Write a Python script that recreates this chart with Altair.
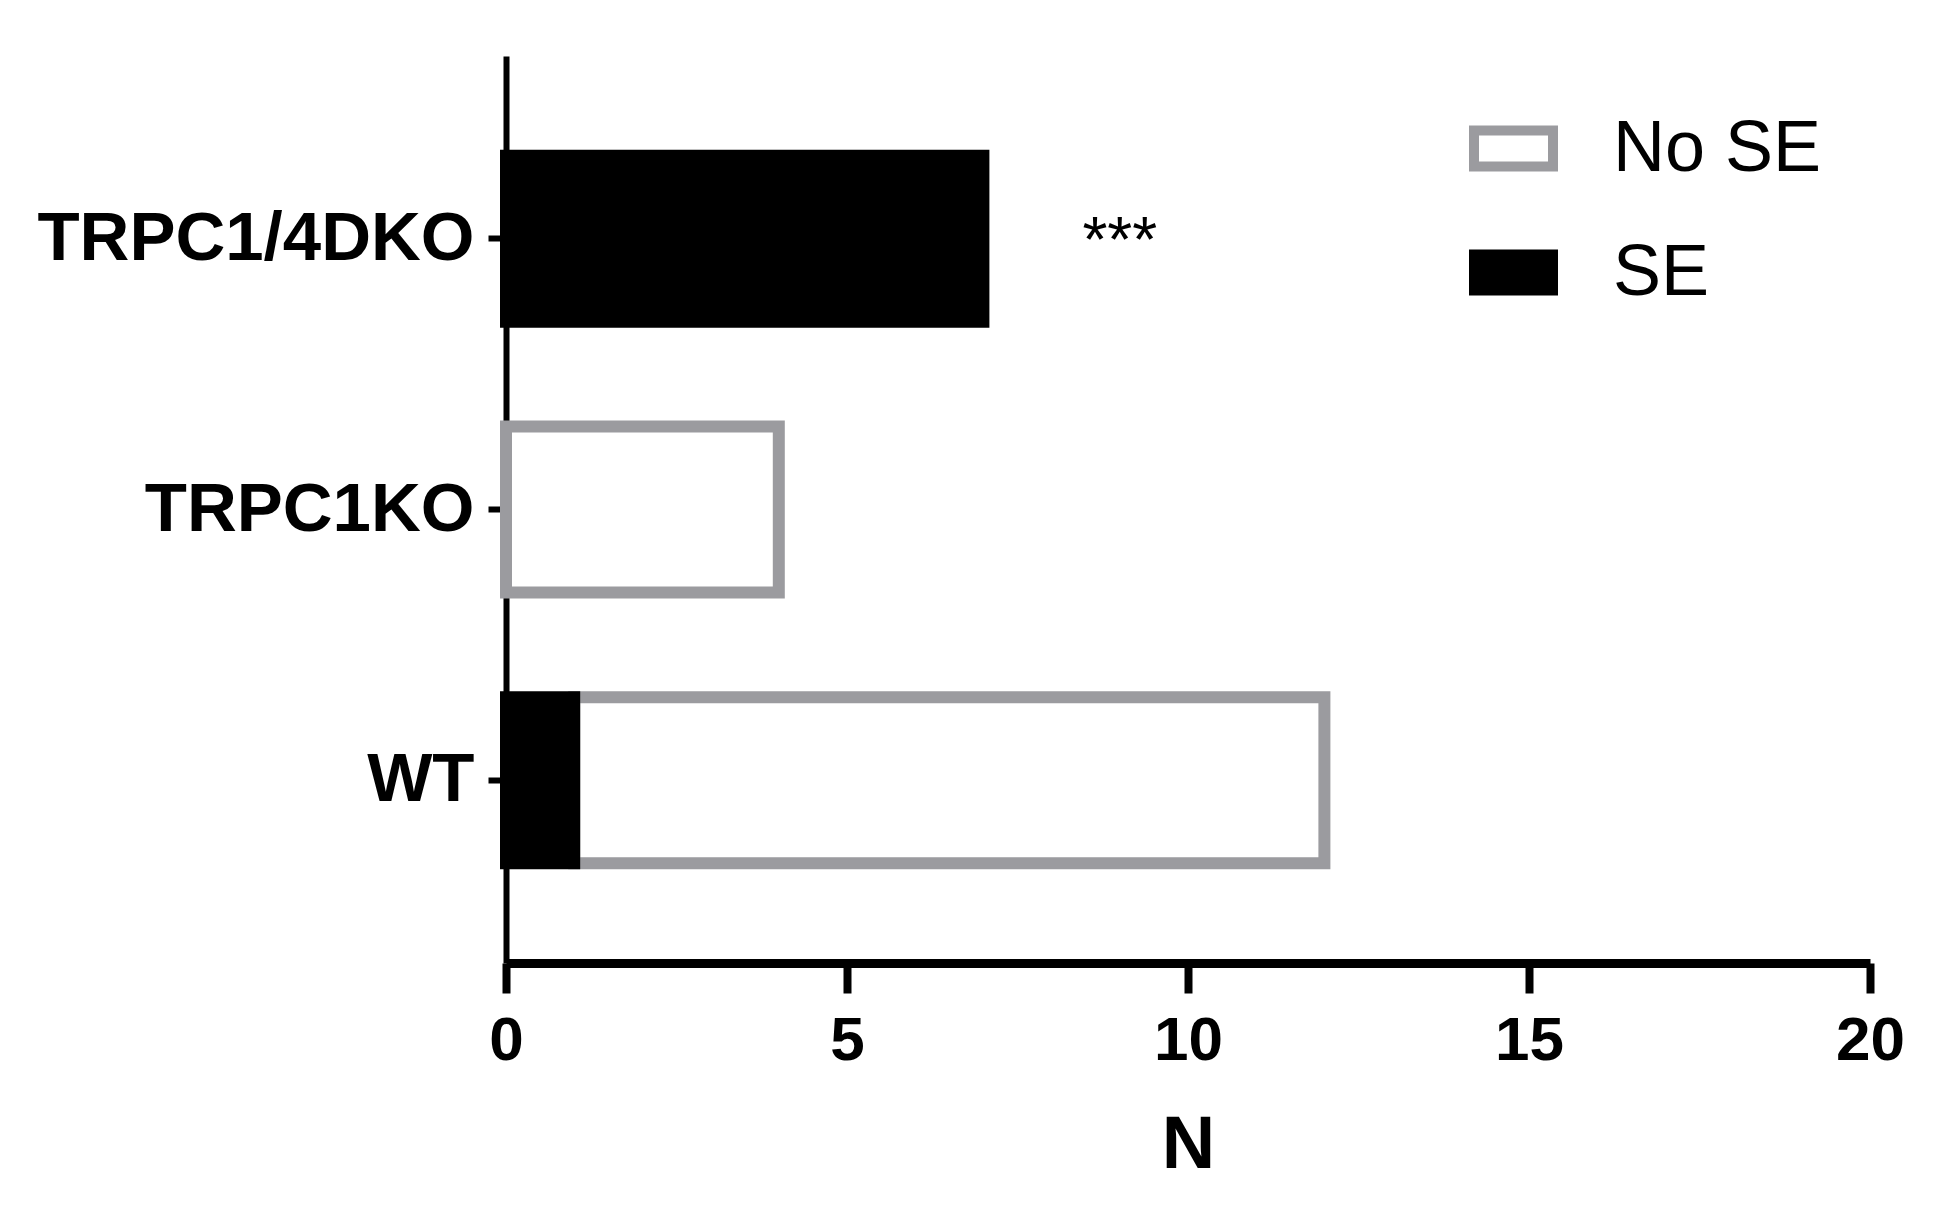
import altair as alt
import pandas as pd

groups = ["TRPC1/4DKO", "TRPC1KO", "WT"]
no_se = [0, 4, 11]
se = [7, 0, 1]
status = ["No SE", "SE"]
x_ticks = [0, 5, 10, 15, 20]
annot_group = ["TRPC1/4DKO"]
annot_x = [9]
annot_text = ["***"]

rows = []
for g, v in zip(groups, no_se):
    rows.append({"group": g, "status": "No SE", "n": v, "stack_order": 1})
for g, v in zip(groups, se):
    rows.append({"group": g, "status": "SE", "n": v, "stack_order": 0})
df = pd.DataFrame(rows)
annot_df = pd.DataFrame({"group": annot_group, "x": annot_x, "label": annot_text})

FONT = "Liberation Sans"
GRAY = "#9b9b9f"

y_scale = alt.Scale(domain=groups, paddingInner=0.387, paddingOuter=0.368)
x_scale = alt.Scale(domain=[0, 20], nice=False, zero=True)

legend = alt.Legend(
    title=None,
    orient="none",
    legendX=963,
    legendY=48,
    padding=0,
    symbolType="M-1,-0.456H1V0.456H-1Z",
    symbolSize=6241,
    symbolStrokeWidth=10,
    labelFont=FONT,
    labelFontSize=72,
    labelColor="black",
    labelOffset=55,
    labelLimit=0,
    rowPadding=41,
)

y_axis = alt.Axis(
    title=None,
    domainColor="black",
    domainWidth=6,
    tickColor="black",
    tickSize=18,
    tickWidth=6,
    labelFont=FONT,
    labelFontSize=69,
    labelFontWeight="bold",
    labelColor="black",
    labelPadding=14,
    labelLimit=0,
    grid=False,
)

x_axis = alt.Axis(
    title="N",
    values=x_ticks,
    format="d",
    domainColor="black",
    domainWidth=9,
    tickColor="black",
    tickSize=30,
    tickWidth=8,
    labelFont=FONT,
    labelFontSize=62,
    labelFontWeight="bold",
    labelColor="black",
    labelPadding=17,
    labelFlush=False,
    titleFont=FONT,
    titleFontSize=74,
    titleFontWeight="bold",
    titleColor="black",
    titlePadding=38,
    grid=False,
)

bars = (
    alt.Chart(df)
    .transform_filter("datum.n > 0")
    .mark_bar(strokeWidth=12, strokeJoin="miter")
    .encode(
        y=alt.Y("group:N", scale=y_scale, sort=groups, axis=y_axis),
        x=alt.X("n:Q", stack="zero", scale=x_scale, axis=x_axis),
        order=alt.Order("stack_order:Q"),
        fill=alt.Fill("status:N", scale=alt.Scale(domain=status, range=["white", "black"]), legend=legend),
        stroke=alt.Stroke("status:N", scale=alt.Scale(domain=status, range=[GRAY, "black"]), legend=legend),
    )
)

text = (
    alt.Chart(annot_df)
    .mark_text(font=FONT, fontSize=64, baseline="alphabetic", dy=23, color="black")
    .encode(
        y=alt.Y("group:N", scale=y_scale, sort=groups, axis=y_axis),
        x=alt.X("x:Q", scale=x_scale, axis=x_axis),
        text="label:N",
    )
)

chart = (
    alt.layer(bars, text)
    .properties(
        width=1364,
        height=907,
        padding={"left": 498, "top": 48, "right": 57, "bottom": 240},
        autosize=alt.AutoSizeParams(type="none"),
        background="white",
    )
    .configure_view(stroke=None)
)

chart.save("out.html", embed_options={"renderer": "svg", "actions": False})
